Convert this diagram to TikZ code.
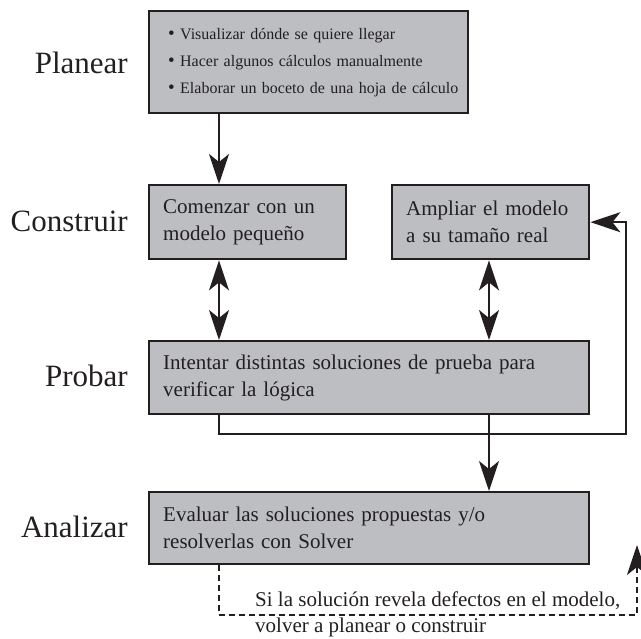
\documentclass[tikz,border=0pt]{standalone}
\usepackage{fontspec}
\setmainfont{Liberation Serif}
\usetikzlibrary{arrows.meta}
\definecolor{boxgray}{RGB}{189,190,193}
\definecolor{ink}{RGB}{35,31,32}
\newcommand{\bul}{{\fontsize{19}{27}\selectfont•}}
\begin{document}
\begin{tikzpicture}[x=1pt,y=-1pt,
  box/.style={draw=ink, line width=2.4pt, fill=boxgray, anchor=north west,
    align=left, inner ysep=0pt, inner xsep=14pt, text=ink,
    font=\fontsize{21}{27}\selectfont},
  lab/.style={anchor=base east, inner sep=0pt, text=ink,
    font=\fontsize{31}{36}\selectfont},
  conn/.style={draw=ink, line width=2pt},
  tip/.tip={Stealth[length=30pt,width=20pt,inset=8pt]},
  arr/.style={conn, -tip},
  darr/.style={conn, tip-tip},
]
\useasboundingbox (0,0) rectangle (641,639);

% stage labels
\node[lab] (lplan) at (128,74) {Planear};
\node[lab] (lbuild) at (128,232) {Construir};
\node[lab] (ltest) at (128,387) {Probar};
\node[lab] (lanal) at (128,538) {Analizar};

% boxes
\node[box, font=\fontsize{16}{27}\selectfont, inner xsep=19pt,
  minimum width=319pt, minimum height=102pt, text width=281pt] (plan) at (148,10)
  {\mbox{\bul\ Visualizar dónde se quiere llegar}\\
   \mbox{\bul\ Hacer algunos cálculos manualmente}\\
   \mbox{\bul\ Elaborar un boceto de una hoja de cálculo}};
\node[box, minimum width=197pt, minimum height=74pt, text width=169pt] (start) at (148,184)
  {Comenzar con un\\modelo pequeño};
\node[box, minimum width=197pt, minimum height=74pt, text width=169pt] (grow) at (391,184)
  {Ampliar el modelo\\a su tamaño real};
\node[box, minimum width=440pt, minimum height=73pt, text width=412pt] (test) at (148,340)
  {Intentar distintas soluciones de prueba para\\verificar la lógica};
\node[box, minimum width=440pt, minimum height=72pt, text width=412pt] (analyze) at (148,491)
  {Evaluar las soluciones propuestas y/o\\resolverlas con Solver};

% note
\node[anchor=north west, inner sep=0pt, align=left, text=ink,
  font=\fontsize{21}{26}\selectfont] (note) at (255,592)
  {Si la solución revela defectos en el modelo,\\volver a planear o construir};

% helper coordinates
\coordinate (cA) at (219,0);
\coordinate (cB) at (489,0);
\coordinate (jR) at (626,434);
\coordinate (jD) at (637,615);
\coordinate (dEnd) at (637,545);

% connectors
\draw[arr] (plan.south -| cA) -- (start.north -| cA);
\draw[darr] (start.south -| cA) -- (test.north -| cA);
\draw[darr] (grow.south -| cB) -- (test.north -| cB);
\draw[arr] (test.south -| cA) |- (jR) |- (grow.east);
\draw[arr] (test.south -| cB) -- (analyze.north -| cB);
\draw[arr, dash pattern=on 6pt off 4pt] (analyze.south -| cA) |- (jD) -- (dEnd);
\end{tikzpicture}
\end{document}
